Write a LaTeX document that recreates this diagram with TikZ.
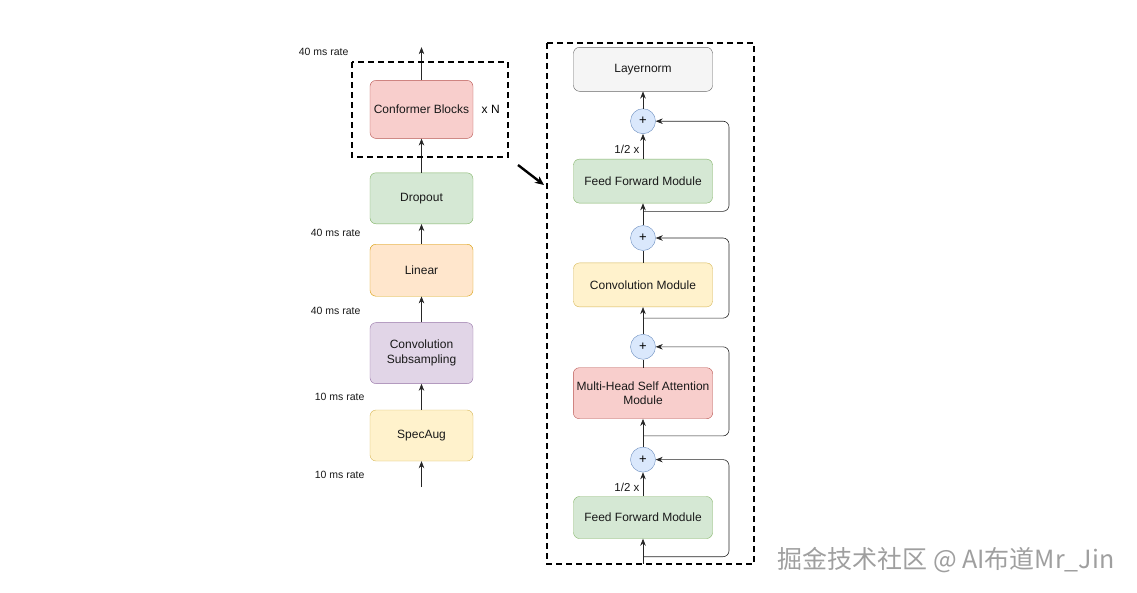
\documentclass[tikz,border=0pt]{standalone}
\usepackage{fontspec}
\setmainfont{Liberation Sans}
\newfontfamily\cjkfont{Noto Sans CJK SC}
\usetikzlibrary{positioning, arrows.meta}
\definecolor{pinkfill}{RGB}{248, 206, 204}
\definecolor{pinkline}{RGB}{184, 84, 80}
\definecolor{greenfill}{RGB}{213, 232, 212}
\definecolor{greenline}{RGB}{130, 179, 102}
\definecolor{orangefill}{RGB}{255, 230, 204}
\definecolor{orangeline}{RGB}{215, 155, 0}
\definecolor{purplefill}{RGB}{225, 213, 231}
\definecolor{purpleline}{RGB}{150, 115, 166}
\definecolor{yellowfill}{RGB}{255, 242, 204}
\definecolor{yellowline}{RGB}{214, 182, 86}
\definecolor{grayfill}{RGB}{245, 245, 245}
\definecolor{grayline}{RGB}{102, 102, 102}
\definecolor{sumfill}{RGB}{218, 232, 252}
\definecolor{sumline}{RGB}{108, 142, 191}

\begin{document}
\begin{tikzpicture}[x=1pt, y=-1pt,
      box/.style={draw, rounded corners=6pt, minimum width=103pt,
                  align=center, text=black!90,
                  font=\fontsize{12}{14.5}\selectfont},
      mod/.style={box, minimum width=139pt, minimum height=44pt},
      sum/.style={circle, draw=sumline, fill=sumfill, minimum size=25pt,
                  inner sep=0pt, font=\fontsize{13}{14}\selectfont},
      rate/.style={font=\fontsize{10.5}{12}\selectfont, text=black!90},
      frame/.style={line width=1.3pt, dash pattern=on 6pt off 4pt},
      arr/.style={-{Stealth[length=7pt, width=5.5pt]}, semithick, color=black!85},
      line/.style={semithick, color=black!85}]
    \useasboundingbox (0,0) rectangle (1137,592);
    % input stack
    \node[box, minimum height=51pt, fill=yellowfill, draw=yellowline] (spec) at (421.5,435.5) {SpecAug};
    \node[box, minimum height=61pt, fill=purplefill, draw=purpleline, above=26pt of spec] (sub) {Convolution\\ Subsampling};
    \node[box, minimum height=52pt, fill=orangefill, draw=orangeline, above=26pt of sub] (lin) {Linear};
    \node[box, minimum height=51pt, fill=greenfill, draw=greenline, above=20pt of lin] (drop) {Dropout};
    \node[box, minimum height=58pt, fill=pinkfill, draw=pinkline, above=34pt of drop] (conf) {Conformer Blocks};
    \node[right=5pt of conf, font=\fontsize{12}{14}\selectfont] (xn) {x N};
    \coordinate[below=26pt of spec] (in);
    \coordinate[above=33pt of conf] (out);
    \draw[arr] (in) -- (spec);
    \draw[arr] (spec) -- (sub);
    \draw[arr] (sub) -- (lin);
    \draw[arr] (lin) -- (drop);
    \draw[arr] (drop) -- (conf);
    \draw[arr] (conf) -- (out);
    \draw[frame] (352,62) rectangle (508,157);
    \node[rate, anchor=east] at (352,52) {40 ms rate};
    \node[rate, anchor=east] at (364,233) {40 ms rate};
    \node[rate, anchor=east] at (364,311) {40 ms rate};
    \node[rate, anchor=east] at (368,397) {10 ms rate};
    \node[rate, anchor=east] at (368,475) {10 ms rate};
    % zoom arrow
    \coordinate (zs) at (518,165);
    \coordinate (ze) at (544,185);
    \draw[-{Stealth[length=9pt, width=8pt]}, line width=2.4pt] (zs) -- (ze);
    % one conformer block
    \node[mod, minimum height=42pt, fill=greenfill, draw=greenline] (ff1) at (643,517.5) {Feed Forward Module};
    \node[sum, above=24pt of ff1] (s1) {+};
    \node[mod, minimum height=51pt, fill=pinkfill, draw=pinkline, above=28pt of s1] (mhsa) {Multi-Head Self Attention\\ Module};
    \node[sum, above=8pt of mhsa] (s2) {+};
    \node[mod, fill=yellowfill, draw=yellowline, above=27pt of s2] (conv) {Convolution Module};
    \node[sum, above=12pt of conv] (s3) {+};
    \node[mod, fill=greenfill, draw=greenline, above=22pt of s3] (ff2) {Feed Forward Module};
    \node[sum, above=25pt of ff2] (s4) {+};
    \node[mod, fill=grayfill, draw=grayline, above=17pt of s4] (ln) {Layernorm};
    \coordinate[below=25pt of ff1] (in2);
    \coordinate[below=18pt of ff1] (b1);
    \coordinate[below=17pt of mhsa] (b2);
    \coordinate[below=11pt of conv] (b3);
    \coordinate[below=8pt of ff2] (b4);
    \draw[arr] (in2) -- (ff1);
    \draw[arr] (ff1) -- node[rate, left, pos=0.38, font=\fontsize{11.5}{13}\selectfont] {1/2 x} (s1);
    \draw[arr] (s1) -- (mhsa);
    \draw[line] (mhsa) -- (s2);
    \draw[arr] (s2) -- (conv);
    \draw[line] (conv) -- (s3);
    \draw[arr] (s3) -- (ff2);
    \draw[arr] (ff2) -- node[rate, left, pos=0.38, font=\fontsize{11.5}{13}\selectfont] {1/2 x} (s4);
    \draw[arr] (s4) -- (ln);
    \draw[arr, rounded corners=6pt] (b1) -- ++(86,0) |- (s1);
    \draw[arr, rounded corners=6pt] (b2) -- ++(86,0) |- (s2);
    \draw[arr, rounded corners=6pt] (b3) -- ++(86,0) |- (s3);
    \draw[arr, rounded corners=6pt] (b4) -- ++(86,0) |- (s4);
    \draw[frame] (547,43) rectangle (754,564);
    % watermark
    \node[anchor=west, text=gray!75, font=\cjkfont\fontsize{25}{28}\selectfont] (wm) at (774,560) {掘金技术社区 @ AI布道Mr\_Jin};
  \end{tikzpicture}
\end{document}
